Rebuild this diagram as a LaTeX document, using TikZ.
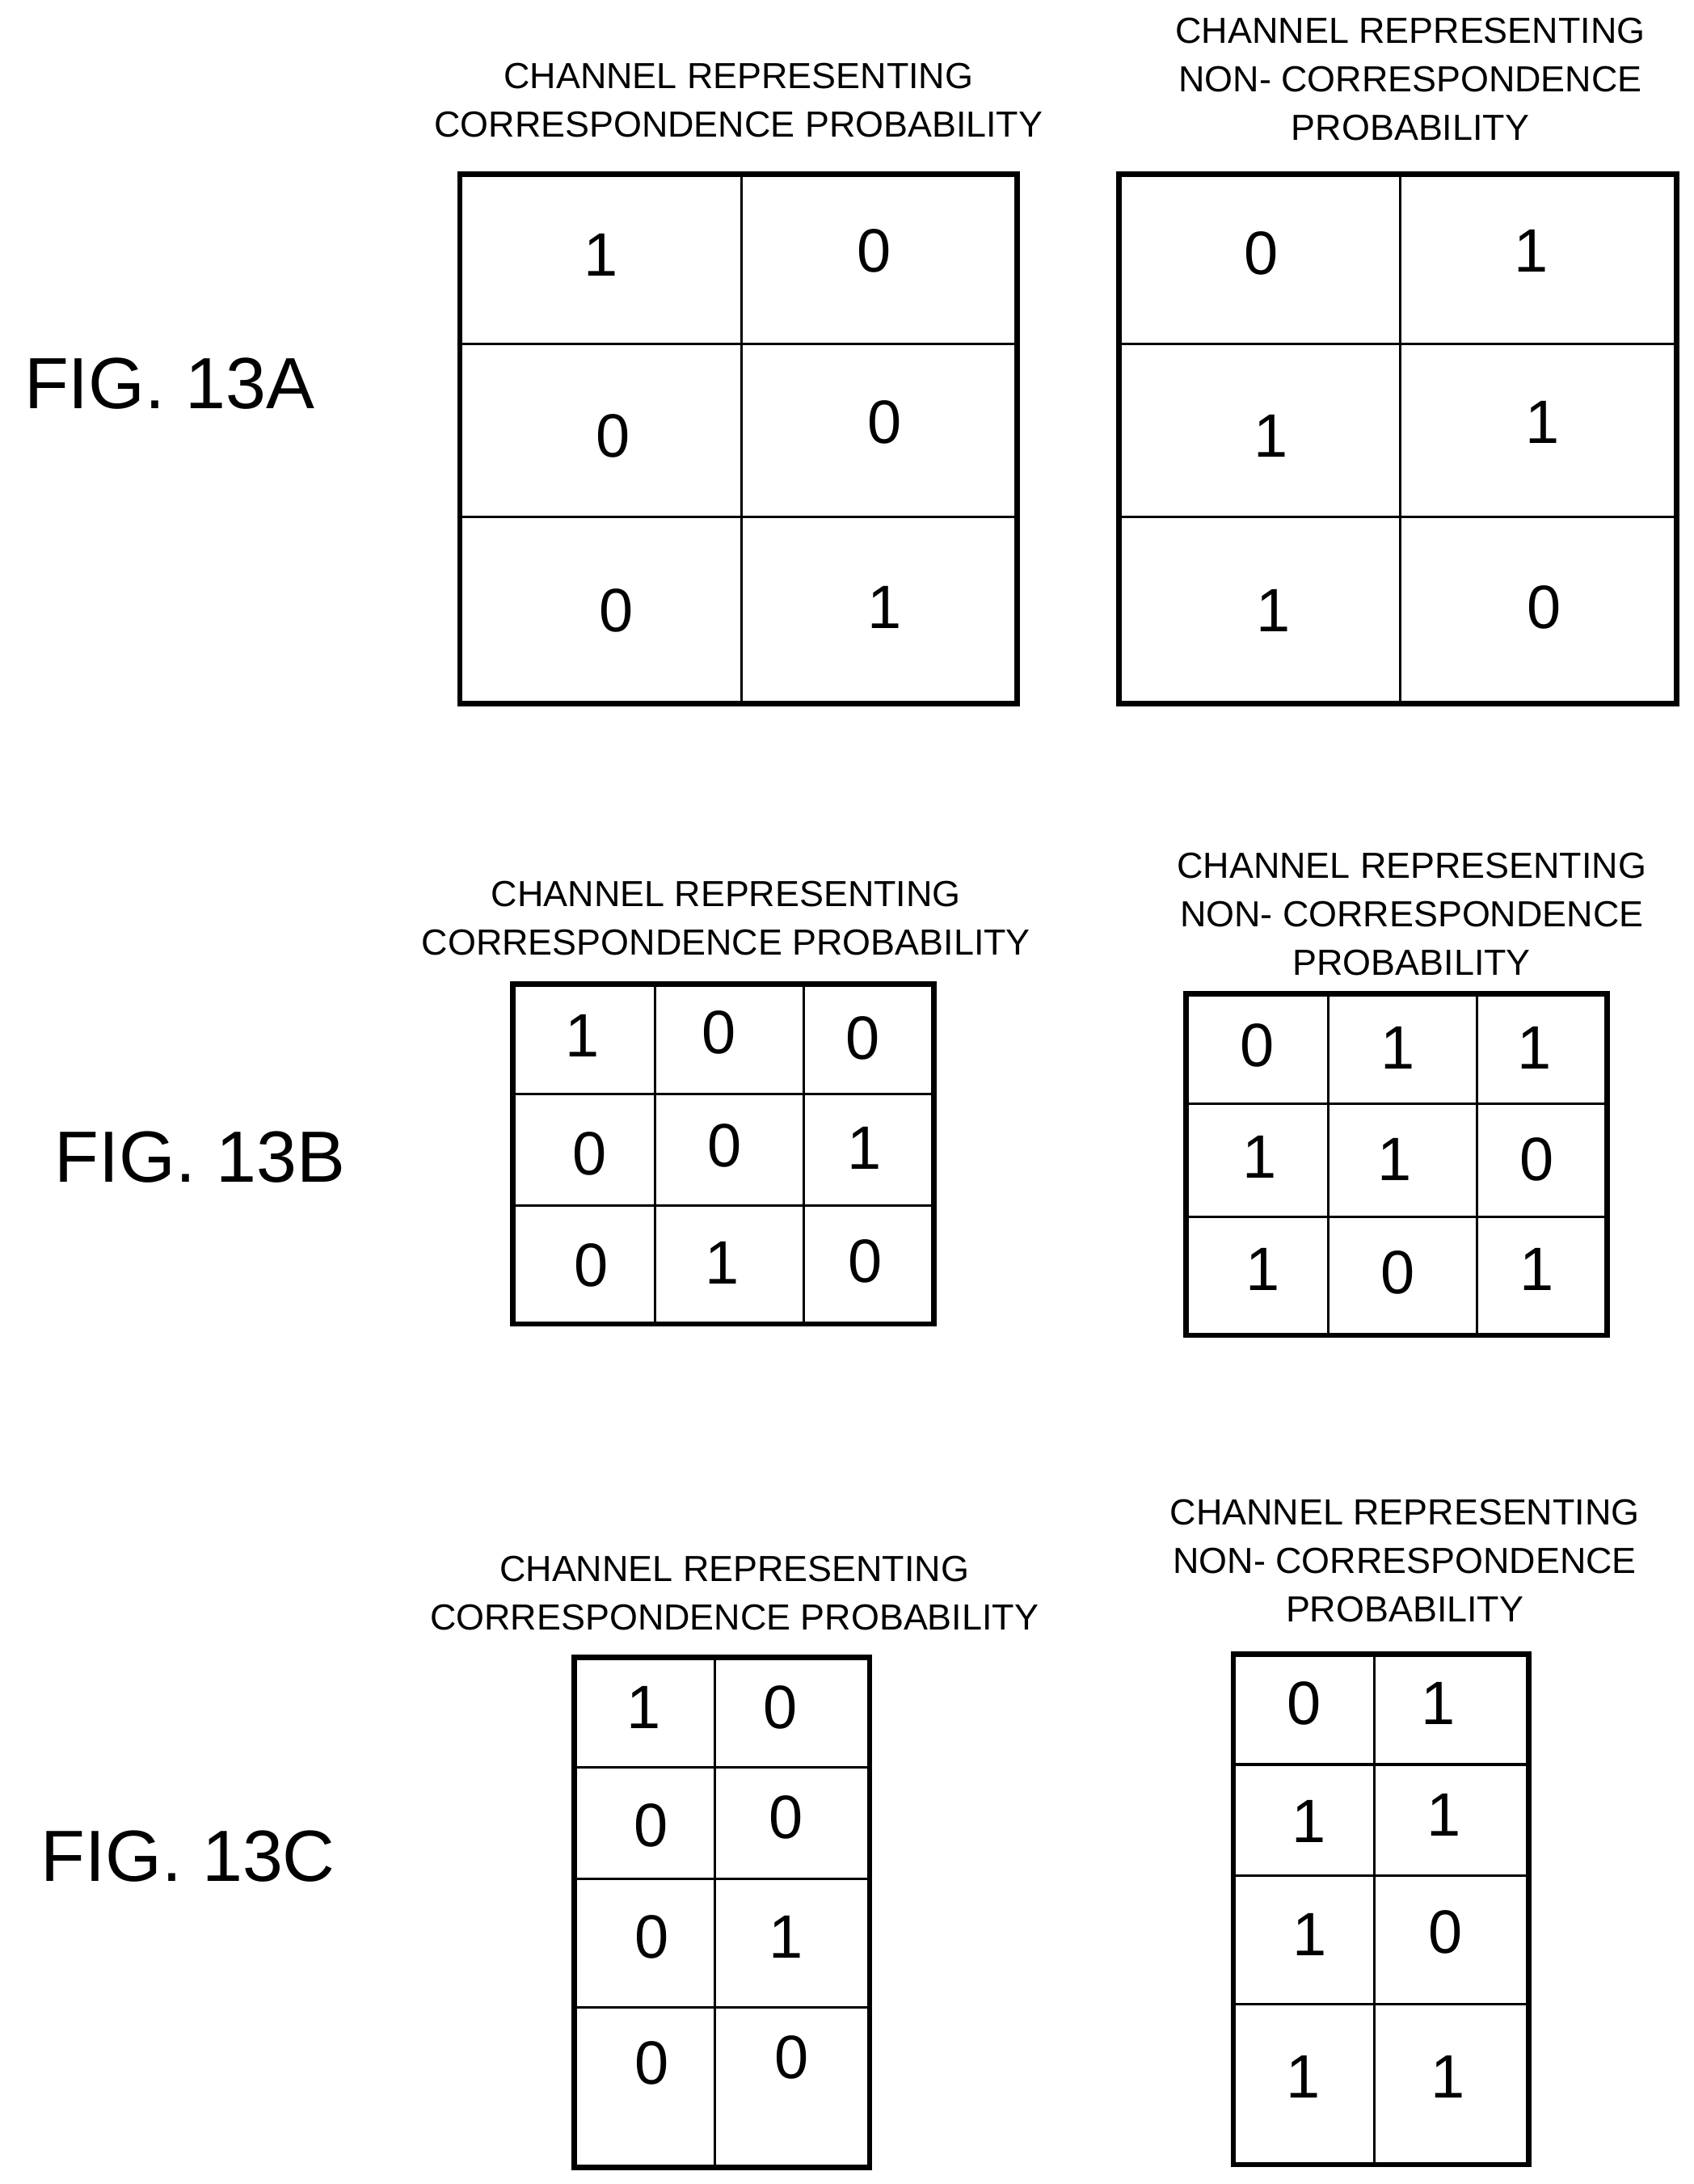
\documentclass[tikz,border=0pt]{standalone}
\usepackage{fontspec}
\setmainfont{Liberation Sans}
\begin{document}
\begin{tikzpicture}[x=0.01cm,y=-0.01cm,
    cell/.style={font=\fontsize{12.5}{12.5}\selectfont},
    ttl/.style={font=\fontsize{7.4}{9.9}\selectfont,align=center},
    fig/.style={font=\fontsize{14.8}{14.8}\selectfont,anchor=west},
    grid/.style={line width=1.1pt},
    sep/.style={line width=0.5pt}]
    \useasboundingbox (0,0) rectangle (1215,1567);

    % FIG. 13A
    \node[fig] (figa) at (5,275) {FIG. 13A};
    \node[ttl] (ta1) at (530,72) {CHANNEL REPRESENTING\\CORRESPONDENCE PROBABILITY};
    \node[ttl] (ta2) at (1012,57) {CHANNEL REPRESENTING\\NON- CORRESPONDENCE\\PROBABILITY};
    \draw[grid] (330,125) rectangle (730,505);
    \draw[sep] (532,125) -- (532,505) (330,247) -- (730,247) (330,371) -- (730,371);
    \draw[grid] (803,125) rectangle (1203,505);
    \draw[sep] (1005,125) -- (1005,505) (803,247) -- (1203,247) (803,371) -- (1203,371);
    \foreach \x/\y/\v [count=\i] in {431/183/1,627/180/0,440/313/0,635/303/0,442/438/0,635/436/1,
        905/182/0,1099/180/1,912/313/1,1107/303/1,914/438/1,1108/436/0}
      \node[cell] (a\i) at (\x,\y) {\v};

    % FIG. 13B
    \node[fig] (figb) at (27,830) {FIG. 13B};
    \node[ttl] (tb1) at (521,659) {CHANNEL REPRESENTING\\CORRESPONDENCE PROBABILITY};
    \node[ttl] (tb2) at (1013,656) {CHANNEL REPRESENTING\\NON- CORRESPONDENCE\\PROBABILITY};
    \draw[grid] (368,706) rectangle (670,950);
    \draw[sep] (470,706) -- (470,950) (577,706) -- (577,950) (368,785) -- (670,785) (368,865) -- (670,865);
    \draw[grid] (851,713) rectangle (1153,958);
    \draw[sep] (953,713) -- (953,958) (1060,713) -- (1060,958) (851,792) -- (1153,792) (851,873) -- (1153,873);
    \foreach \x/\y/\v [count=\i] in {418/743/1,516/741/0,619/745/0,423/828/0,520/822/0,620/824/1,
        424/908/0,518/906/1,621/905/0,
        902/750/0,1003/752/1,1101/752/1,904/830/1,1001/832/1,1103/832/0,
        906/911/1,1003/913/0,1103/911/1}
      \node[cell] (b\i) at (\x,\y) {\v};

    % FIG. 13C
    \node[fig] (figc) at (17,1332) {FIG. 13C};
    \node[ttl] (tc1) at (527,1143) {CHANNEL REPRESENTING\\CORRESPONDENCE PROBABILITY};
    \node[ttl] (tc2) at (1008,1120) {CHANNEL REPRESENTING\\NON- CORRESPONDENCE\\PROBABILITY};
    \draw[grid] (412,1189) rectangle (624,1555);
    \draw[sep] (513,1189) -- (513,1555) (412,1268) -- (624,1268) (412,1348) -- (624,1348) (412,1440) -- (624,1440);
    \draw[grid] (885,1187) rectangle (1097,1553);
    \draw[sep] (986,1187) -- (986,1553) (885,1266) -- (1097,1266) (885,1346) -- (1097,1346) (885,1438) -- (1097,1438);
    \foreach \x/\y/\v [count=\i] in {462/1225/1,560/1225/0,467/1310/0,564/1304/0,468/1390/0,564/1390/1,
        468/1480/0,568/1476/0,
        936/1222/0,1032/1222/1,939/1307/1,1036/1302/1,940/1388/1,1037/1386/0,935/1490/1,1039/1490/1}
      \node[cell] (c\i) at (\x,\y) {\v};
\end{tikzpicture}
\end{document}
